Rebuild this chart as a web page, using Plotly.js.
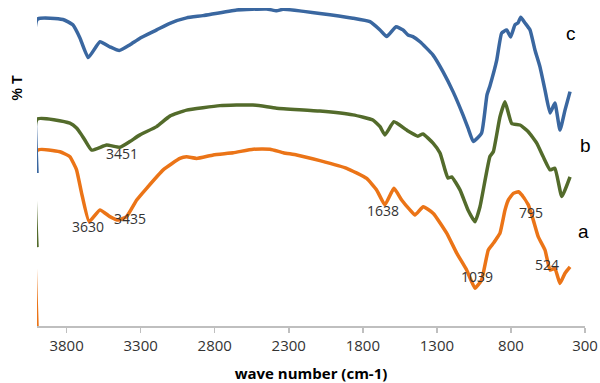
<!DOCTYPE html>
<html>
<head>
<meta charset="utf-8">
<script src="https://cdn.plot.ly/plotly-3.0.1.min.js"></script>
<style>
html,body{margin:0;padding:0;background:#fff;}
#chart{width:600px;height:383px;}
</style>
</head>
<body>
<div id="chart"></div>
<script>
// Wave numbers (cm-1) and %T (arbitrary offset scale)
const waveA = [4000,3997,3845,3778,3733,3699,3648,3575,3508,3452,3395,3327,3260,3148,3035,2990,2922,2810,2675,2540,2427,2337,2247,2090,1909,1774,1707,1651,1590,1538,1482,1448,1392,1324,1234,1166,1099,1043,998,953,919,896,874,840,818,784,750,727,683,649,616,570,536,503,469,435,401];
const transA = [0,55.3,54.8,53.2,49.1,41.8,32.8,36.5,34.4,33.3,34.4,39.6,43.3,49.1,52.7,53.2,52.7,53.8,54.5,55.6,55.6,54.5,53.8,52.0,49.6,46.4,42.8,38.1,43.3,39.6,36.5,34.9,37.5,35.4,29.2,22.9,17.6,11.9,14.5,23.9,26.0,27.6,29.2,36.5,39.6,41.7,42.2,41.2,38.1,33.3,28.1,23.9,17.6,18.1,13.4,16.6,18.6];

const waveB = [4000,3997,3778,3733,3699,3677,3631,3530,3440,3373,3305,3192,3103,2990,2765,2542,2382,2090,1867,1732,1684,1651,1590,1504,1428,1394,1326,1279,1245,1225,1200,1144,1090,1043,1009,942,919,874,840,795,739,683,626,582,536,503,457,401];
const transB = [24.8,65.1,63.8,62.3,60.1,58.5,55.3,56.9,56.2,58.0,60.1,62.7,66.0,67.9,69.3,69.5,68.5,67.6,66.4,64.8,62.7,60.1,64.2,61.6,59.7,60.4,57.5,54.4,49.1,46.5,46.9,42.8,36.5,32.8,37.5,53.3,54.8,65.8,70.5,63.7,63.2,61.1,57.5,53.2,49.1,49.6,40.7,46.9];

const waveC = [4000,3997,3825,3758,3710,3654,3575,3508,3445,3373,3305,3192,3103,2990,2880,2652,2450,2382,2339,2090,1867,1752,1684,1639,1576,1529,1495,1462,1414,1326,1259,1191,1124,1090,1054,998,962,942,896,863,829,802,773,752,734,705,671,638,604,570,536,503,469,435,401];
const transC = [48.1,96.5,96.4,94.7,90.6,84.4,89.4,87.8,86.6,88.4,90.5,93.1,95.2,96.9,97.6,99.4,99.7,99.1,99.6,98.3,96.8,95.7,93.1,91.0,94.1,93.1,91.5,91.0,89.4,85.2,80.0,73.7,66.4,62.3,58.0,60.7,72.6,75.5,83.6,92.1,93.1,90.9,94.7,95.3,97.1,95.3,93.1,86.8,81.5,74.2,67.0,70.1,61.6,67.9,73.7];

const seriesNames = ['a','b','c'];
const seriesColors = ['#EB7417','#536B2B','#3A67A0'];

const tickVals = [3800,3300,2800,2300,1800,1300,800,300];

// band labels: text, x, y
const bandText = ['3630','3435','1638','1039','795','524','3451'];
const bandX = [3654,3373,1662,1031,667,559,3429];
const bandY = [31.4,33.9,36.2,15.5,35.8,19.2,54.4];

// series letters (paper x, data y)
const letterX = [0.998,1.001,0.974];
const letterY = [29.7,56.9,92.1];

const waves = [waveA, waveB, waveC];
const trans = [transA, transB, transC];

const traces = seriesNames.map((n,i)=>({
  x: waves[i], y: trans[i], name: n, type:'scatter', mode:'lines',
  line:{color: seriesColors[i], width:3.5, shape:'spline', smoothing:0.4},
  hoverinfo:'skip'
}));

const annotations = [];
bandText.forEach((t,i)=>annotations.push({
  x: bandX[i], y: bandY[i], xref:'x', yref:'y', text:t, showarrow:false,
  xanchor:'center', yanchor:'middle',
  font:{family:'Open Sans, sans-serif', size:14, color:'#333333'}
}));
seriesNames.forEach((n,i)=>annotations.push({
  x: letterX[i], y: letterY[i], xref:'paper', yref:'y', text:n, showarrow:false,
  xanchor:'center', yanchor:'middle',
  font:{family:'Liberation Sans, Arial, sans-serif', size:19, color:'#000000'}
}));
annotations.push({
  x:-0.036, y:0.748, xref:'paper', yref:'paper', text:'<b>% T</b>', showarrow:false,
  xanchor:'center', yanchor:'middle',
  textangle:-90, font:{family:'Liberation Sans, Arial, sans-serif', size:14, color:'#000000'}
});

const layout = {
  width:600, height:383,
  margin:{l:37, r:15, t:8, b:57},
  paper_bgcolor:'#ffffff', plot_bgcolor:'#ffffff',
  showlegend:false,
  xaxis:{
    range:[4000,300], tickvals:tickVals, ticktext:tickVals.map(String),
    showgrid:false, zeroline:false, showline:true, linecolor:'#BFBFBF', linewidth:1.5,
    ticks:'outside', ticklen:5, tickcolor:'#BFBFBF', tickwidth:1.5,
    tickfont:{family:'Open Sans, sans-serif', size:15, color:'#333333'},
    title:{text:'<b>wave number (cm-1)</b>', font:{family:'Open Sans, sans-serif', size:15, color:'#000000'}, standoff:15}
  },
  yaxis:{
    range:[0,100], showgrid:false, zeroline:false, showline:false, showticklabels:false, ticks:''
  },
  annotations: annotations
};

Plotly.newPlot('chart', traces, layout, {displayModeBar:false, staticPlot:true});
</script>
</body>
</html>
